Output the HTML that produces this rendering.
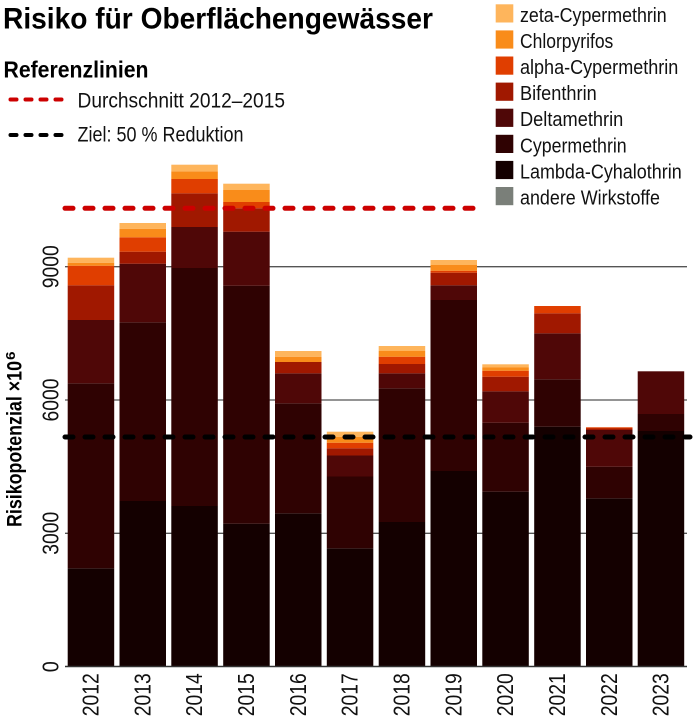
<!DOCTYPE html>
<html><head><meta charset="utf-8"><style>
html,body{margin:0;padding:0;background:#fff;}
svg{display:block;}
text{font-family:"Liberation Sans",Arial,sans-serif;}
</style></head><body>
<svg width="694" height="720" viewBox="0 0 694 720" xmlns="http://www.w3.org/2000/svg">
<rect width="694" height="720" fill="#fff"/>
<!-- Title -->
<text x="3" y="28.5" font-size="30" font-weight="bold" fill="#000" textLength="430" lengthAdjust="spacingAndGlyphs">Risiko für Oberflächengewässer</text>
<text x="3.5" y="77.5" font-size="23" font-weight="bold" fill="#000" textLength="145" lengthAdjust="spacingAndGlyphs">Referenzlinien</text>
<!-- ref legend -->
<line x1="10.5" y1="99.5" x2="65" y2="99.5" stroke="#cc0000" stroke-width="4" stroke-dasharray="6 9" stroke-linecap="round"/>
<text x="77.5" y="107.5" font-size="21" fill="#111" textLength="207.5" lengthAdjust="spacingAndGlyphs">Durchschnitt 2012–2015</text>
<line x1="10.5" y1="135" x2="65" y2="135" stroke="#000" stroke-width="4" stroke-dasharray="6 9" stroke-linecap="round"/>
<text x="77.5" y="141.7" font-size="21" fill="#111" textLength="166" lengthAdjust="spacingAndGlyphs">Ziel: 50 % Reduktion</text>

<!-- Right legend -->
<g>
<rect x="495.7" y="4.3" width="17.6" height="18.2" fill="#FEB55C"/>
<text x="520" y="22" font-size="20" fill="#111" textLength="146.7" lengthAdjust="spacingAndGlyphs">zeta-Cypermethrin</text>
<rect x="495.7" y="30.4" width="17.6" height="18.2" fill="#F98C1A"/>
<text x="520" y="48" font-size="20" fill="#111" textLength="93.3" lengthAdjust="spacingAndGlyphs">Chlorpyrifos</text>
<rect x="495.7" y="56.5" width="17.6" height="18.2" fill="#E03E00"/>
<text x="520" y="74" font-size="20" fill="#111" textLength="158.3" lengthAdjust="spacingAndGlyphs">alpha-Cypermethrin</text>
<rect x="495.7" y="82.6" width="17.6" height="18.2" fill="#A01800"/>
<text x="520" y="100" font-size="20" fill="#111" textLength="76.7" lengthAdjust="spacingAndGlyphs">Bifenthrin</text>
<rect x="495.7" y="108.7" width="17.6" height="18.2" fill="#4F0707"/>
<text x="520" y="126.2" font-size="20" fill="#111" textLength="103.3" lengthAdjust="spacingAndGlyphs">Deltamethrin</text>
<rect x="495.7" y="134.8" width="17.6" height="18.2" fill="#2F0202"/>
<text x="520" y="152.3" font-size="20" fill="#111" textLength="106.7" lengthAdjust="spacingAndGlyphs">Cypermethrin</text>
<rect x="495.7" y="160.9" width="17.6" height="18.2" fill="#140000"/>
<text x="520" y="178.4" font-size="20" fill="#111" textLength="161.7" lengthAdjust="spacingAndGlyphs">Lambda-Cyhalothrin</text>
<rect x="495.7" y="187" width="17.6" height="18.2" fill="#7A7F79"/>
<text x="520" y="204.5" font-size="20" fill="#111" textLength="140" lengthAdjust="spacingAndGlyphs">andere Wirkstoffe</text>
</g>

<!-- gridlines -->
<line x1="65" y1="266.7" x2="687" y2="266.7" stroke="#555" stroke-width="1.3"/>
<line x1="65" y1="400" x2="687" y2="400" stroke="#555" stroke-width="1.3"/>
<line x1="65" y1="533.3" x2="687" y2="533.3" stroke="#555" stroke-width="1.3"/>

<!-- bars -->
<g>
<!-- 2012 -->
<rect x="67.7" y="568.3" width="46.5" height="97.9" fill="#140000"/>
<rect x="67.7" y="383.3" width="46.5" height="185" fill="#2F0202"/>
<rect x="67.7" y="320" width="46.5" height="63.3" fill="#4F0707"/>
<rect x="67.7" y="285.3" width="46.5" height="34.7" fill="#A01800"/>
<rect x="67.7" y="265.7" width="46.5" height="19.6" fill="#E03E00"/>
<rect x="67.7" y="262.7" width="46.5" height="3" fill="#F98C1A"/>
<rect x="67.7" y="257.7" width="46.5" height="5" fill="#FEB55C"/>
<!-- 2013 -->
<rect x="119.5" y="501" width="46.5" height="165.2" fill="#140000"/>
<rect x="119.5" y="322.3" width="46.5" height="178.7" fill="#2F0202"/>
<rect x="119.5" y="263.7" width="46.5" height="58.6" fill="#4F0707"/>
<rect x="119.5" y="251.7" width="46.5" height="12" fill="#A01800"/>
<rect x="119.5" y="237.3" width="46.5" height="14.4" fill="#E03E00"/>
<rect x="119.5" y="228.7" width="46.5" height="8.6" fill="#F98C1A"/>
<rect x="119.5" y="223" width="46.5" height="5.7" fill="#FEB55C"/>
<!-- 2014 -->
<rect x="171.3" y="506" width="46.5" height="160.2" fill="#140000"/>
<rect x="171.3" y="268" width="46.5" height="238" fill="#2F0202"/>
<rect x="171.3" y="227" width="46.5" height="41" fill="#4F0707"/>
<rect x="171.3" y="193.3" width="46.5" height="33.7" fill="#A01800"/>
<rect x="171.3" y="179" width="46.5" height="14.3" fill="#E03E00"/>
<rect x="171.3" y="171.3" width="46.5" height="7.7" fill="#F98C1A"/>
<rect x="171.3" y="164.7" width="46.5" height="6.6" fill="#FEB55C"/>
<!-- 2015 -->
<rect x="223.2" y="523.7" width="46.5" height="142.5" fill="#140000"/>
<rect x="223.2" y="285.7" width="46.5" height="238" fill="#2F0202"/>
<rect x="223.2" y="231.7" width="46.5" height="54" fill="#4F0707"/>
<rect x="223.2" y="208.3" width="46.5" height="23.4" fill="#A01800"/>
<rect x="223.2" y="202" width="46.5" height="6.3" fill="#E03E00"/>
<rect x="223.2" y="190" width="46.5" height="12" fill="#F98C1A"/>
<rect x="223.2" y="183.7" width="46.5" height="6.3" fill="#FEB55C"/>
<!-- 2016 -->
<rect x="275" y="513.3" width="46.5" height="152.9" fill="#140000"/>
<rect x="275" y="403.3" width="46.5" height="110" fill="#2F0202"/>
<rect x="275" y="373.3" width="46.5" height="30" fill="#4F0707"/>
<rect x="275" y="362" width="46.5" height="11.3" fill="#A01800"/>
<rect x="275" y="356.7" width="46.5" height="5.3" fill="#F98C1A"/>
<rect x="275" y="351" width="46.5" height="5.7" fill="#FEB55C"/>
<!-- 2017 -->
<rect x="326.8" y="548.3" width="46.5" height="117.9" fill="#140000"/>
<rect x="326.8" y="476.5" width="46.5" height="71.8" fill="#2F0202"/>
<rect x="326.8" y="455.5" width="46.5" height="21" fill="#4F0707"/>
<rect x="326.8" y="448.3" width="46.5" height="7.2" fill="#A01800"/>
<rect x="326.8" y="442.7" width="46.5" height="5.6" fill="#E03E00"/>
<rect x="326.8" y="436.7" width="46.5" height="6" fill="#F98C1A"/>
<rect x="326.8" y="431.7" width="46.5" height="5" fill="#FEB55C"/>
<!-- 2018 -->
<rect x="378.7" y="522" width="46.5" height="144.2" fill="#140000"/>
<rect x="378.7" y="388.3" width="46.5" height="133.7" fill="#2F0202"/>
<rect x="378.7" y="373.3" width="46.5" height="15" fill="#4F0707"/>
<rect x="378.7" y="364" width="46.5" height="9.3" fill="#A01800"/>
<rect x="378.7" y="356.7" width="46.5" height="7.3" fill="#E03E00"/>
<rect x="378.7" y="351" width="46.5" height="5.7" fill="#F98C1A"/>
<rect x="378.7" y="346" width="46.5" height="5" fill="#FEB55C"/>
<!-- 2019 -->
<rect x="430.5" y="471" width="46.5" height="195.2" fill="#140000"/>
<rect x="430.5" y="300" width="46.5" height="171" fill="#2F0202"/>
<rect x="430.5" y="285.3" width="46.5" height="14.7" fill="#4F0707"/>
<rect x="430.5" y="272.7" width="46.5" height="12.6" fill="#A01800"/>
<rect x="430.5" y="270.7" width="46.5" height="2" fill="#E03E00"/>
<rect x="430.5" y="265" width="46.5" height="5.7" fill="#F98C1A"/>
<rect x="430.5" y="260" width="46.5" height="5" fill="#FEB55C"/>
<!-- 2020 -->
<rect x="482.3" y="491.7" width="46.5" height="174.5" fill="#140000"/>
<rect x="482.3" y="422.7" width="46.5" height="69" fill="#2F0202"/>
<rect x="482.3" y="391.3" width="46.5" height="31.4" fill="#4F0707"/>
<rect x="482.3" y="376.7" width="46.5" height="14.6" fill="#A01800"/>
<rect x="482.3" y="370.7" width="46.5" height="6" fill="#E03E00"/>
<rect x="482.3" y="367.5" width="46.5" height="3.2" fill="#F98C1A"/>
<rect x="482.3" y="364.3" width="46.5" height="3.2" fill="#FEB55C"/>
<!-- 2021 -->
<rect x="534.2" y="426.7" width="46.5" height="239.5" fill="#140000"/>
<rect x="534.2" y="379.3" width="46.5" height="47.4" fill="#2F0202"/>
<rect x="534.2" y="333.3" width="46.5" height="46" fill="#4F0707"/>
<rect x="534.2" y="313.3" width="46.5" height="20" fill="#A01800"/>
<rect x="534.2" y="306" width="46.5" height="7.3" fill="#E03E00"/>
<!-- 2022 -->
<rect x="586" y="498.3" width="46.5" height="167.9" fill="#140000"/>
<rect x="586" y="466.7" width="46.5" height="31.6" fill="#2F0202"/>
<rect x="586" y="430" width="46.5" height="36.7" fill="#4F0707"/>
<rect x="586" y="428.5" width="46.5" height="1.5" fill="#A01800"/>
<rect x="586" y="427.3" width="46.5" height="1.2" fill="#E03E00"/>
<!-- 2023 -->
<rect x="637.7" y="431" width="46.5" height="235.2" fill="#140000"/>
<rect x="637.7" y="414" width="46.5" height="17" fill="#2F0202"/>
<rect x="637.7" y="371.3" width="46.5" height="42.7" fill="#4F0707"/>
</g>

<!-- baseline -->
<line x1="65" y1="666.5" x2="687" y2="666.5" stroke="#333" stroke-width="1.5"/>

<!-- reference lines -->
<line x1="65" y1="208.3" x2="481" y2="208.3" stroke="#cc0000" stroke-width="5" stroke-dasharray="8 12" stroke-linecap="round"/>
<line x1="65" y1="437" x2="690" y2="437" stroke="#000" stroke-width="5" stroke-dasharray="8 12" stroke-linecap="round"/>

<!-- y tick labels -->
<g font-size="23" fill="#111" text-anchor="middle">
<text transform="translate(58.3,266.7) rotate(-90)" textLength="43" lengthAdjust="spacingAndGlyphs">9000</text>
<text transform="translate(58.3,400) rotate(-90)" textLength="43" lengthAdjust="spacingAndGlyphs">6000</text>
<text transform="translate(58.3,533.3) rotate(-90)" textLength="43" lengthAdjust="spacingAndGlyphs">3000</text>
<text transform="translate(58.3,666.7) rotate(-90)" textLength="11" lengthAdjust="spacingAndGlyphs">0</text>
</g>

<!-- y axis title -->
<text transform="translate(21.5,527) rotate(-90)" font-size="21" font-weight="bold" fill="#000" textLength="166" lengthAdjust="spacingAndGlyphs">Risikopotenzial ×10</text>
<text transform="translate(15,360) rotate(-90)" font-size="12.5" font-weight="bold" fill="#000" textLength="8.5" lengthAdjust="spacingAndGlyphs">6</text>

<!-- x labels -->
<g font-size="23" fill="#111" text-anchor="end">
<text transform="translate(98.5,673.3) rotate(-90)" textLength="43" lengthAdjust="spacingAndGlyphs">2012</text>
<text transform="translate(150.3,673.3) rotate(-90)" textLength="43" lengthAdjust="spacingAndGlyphs">2013</text>
<text transform="translate(202.1,673.3) rotate(-90)" textLength="43" lengthAdjust="spacingAndGlyphs">2014</text>
<text transform="translate(254,673.3) rotate(-90)" textLength="43" lengthAdjust="spacingAndGlyphs">2015</text>
<text transform="translate(305.8,673.3) rotate(-90)" textLength="43" lengthAdjust="spacingAndGlyphs">2016</text>
<text transform="translate(357.6,673.3) rotate(-90)" textLength="43" lengthAdjust="spacingAndGlyphs">2017</text>
<text transform="translate(409.5,673.3) rotate(-90)" textLength="43" lengthAdjust="spacingAndGlyphs">2018</text>
<text transform="translate(461.3,673.3) rotate(-90)" textLength="43" lengthAdjust="spacingAndGlyphs">2019</text>
<text transform="translate(513.1,673.3) rotate(-90)" textLength="43" lengthAdjust="spacingAndGlyphs">2020</text>
<text transform="translate(565,673.3) rotate(-90)" textLength="43" lengthAdjust="spacingAndGlyphs">2021</text>
<text transform="translate(616.8,673.3) rotate(-90)" textLength="43" lengthAdjust="spacingAndGlyphs">2022</text>
<text transform="translate(668.6,673.3) rotate(-90)" textLength="43" lengthAdjust="spacingAndGlyphs">2023</text>
</g>
</svg>
</body></html>
